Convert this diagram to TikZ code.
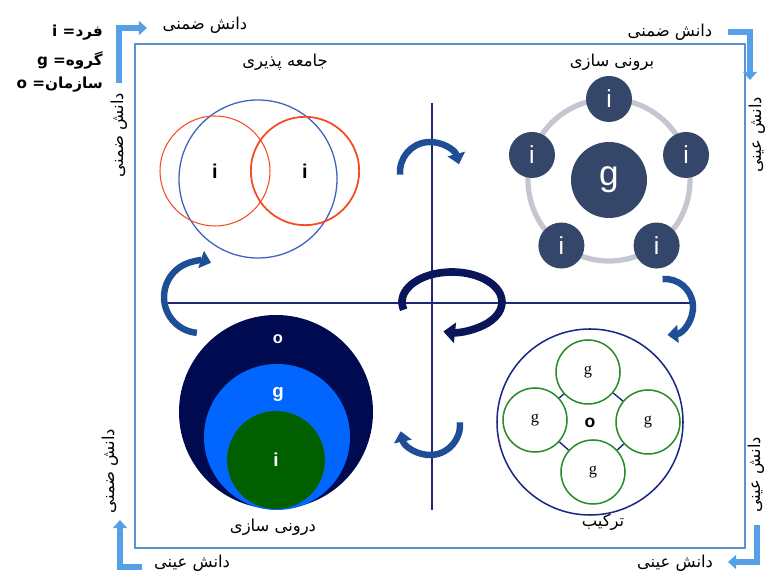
\documentclass[tikz,border=0pt]{standalone}
\usepackage{fontspec}
\setmainfont{Liberation Sans}
\newfontfamily\fa[Script=Arabic]{DejaVu Sans}
\newfontfamily\gserif{Liberation Serif}
\TeXXeTstate=1
\usetikzlibrary{arrows.meta}

\definecolor{framecol}{RGB}{95,145,205}
\definecolor{axiscol}{RGB}{30,40,120}
\definecolor{arcblue}{RGB}{31,78,150}
\definecolor{loopnavy}{RGB}{10,22,90}
\definecolor{cornerblue}{RGB}{85,160,230}
\definecolor{slate}{RGB}{52,71,106}
\definecolor{ringgray}{RGB}{196,199,206}
\definecolor{redc}{RGB}{245,75,30}
\definecolor{ovalblue}{RGB}{60,100,190}
\definecolor{onavy}{RGB}{0,10,80}
\definecolor{gblue}{RGB}{0,102,255}
\definecolor{igreen}{RGB}{0,96,0}
\definecolor{ringgreen}{RGB}{40,140,40}
\definecolor{outernavy}{RGB}{25,40,130}

\newcommand{\fatxt}[1]{{\fa\beginR #1\endR}}

\begin{document}
\begin{tikzpicture}[x=0.03cm, y=0.03cm, line cap=butt, line join=miter,
    falabel/.style={font=\fontsize{14}{16}\selectfont, inner sep=1pt},
    keylabel/.style={font=\fa\bfseries\fontsize{13}{15}\selectfont, anchor=east, inner sep=0pt},
    bluearc/.style={line width=5.5pt, arcblue, -{Triangle[length=9pt, width=15pt]}},
    looparc/.style={line width=6.5pt, loopnavy, -{Triangle[length=10pt, width=17pt]}},
    corner/.style={line width=4.5pt, cornerblue, -{Triangle[length=7pt, width=12pt]}},
    dot/.style={circle, inner sep=0pt, text=white},
    ring/.style={circle, draw=ringgreen, line width=1.3pt, fill=white, inner sep=0pt, minimum size=1.92cm, font=\gserif\fontsize{14}{16}\selectfont}]
    \useasboundingbox (0,0) rectangle (765,572);

    % key
    \node[keylabel] (keyi) at (103,539) {i =\beginR فرد\endR};
    \node[keylabel] (keyg) at (103,512) {g =\beginR گروه\endR};
    \node[keylabel] (keyo) at (103,487) {o =\beginR سازمان\endR};

    % frame and axes
    \draw[framecol, line width=1.6pt] (135,24) rectangle (745,528);
    \coordinate (vtop) at (432,469);
    \coordinate (vbot) at (432,62);
    \coordinate (hleft) at (168,269);
    \coordinate (hright) at (695,269);
    \draw[axiscol, line width=1pt] (vtop) -- (vbot);
    \draw[axiscol, line width=1pt] (hleft) -- (hright);

    % socialization (top left)
    \node[falabel] (soc) at (285,510) {\fatxt{جامعه پذیری}};
    \node[circle, draw=ovalblue, line width=1.1pt, minimum size=4.74cm] (grp) at (258,393) {};
    \node[circle, draw=redc, line width=0.9pt, inner sep=0pt, minimum size=3.3cm,
          font=\bfseries\fontsize{17}{19}\selectfont] (ileft) at (215,401) {i};
    \node[circle, draw=redc, line width=1.5pt, inner sep=0pt, minimum size=3.25cm,
          font=\bfseries\fontsize{17}{19}\selectfont] (iright) at (305,401) {i};

    % externalization (top right)
    \node[falabel] (ext) at (612,510) {\fatxt{برونی سازی}};
    \coordinate (extc) at (609,392);
    \draw[ringgray, line width=4.5pt] (extc) circle[radius=81];
    \node[dot, fill=slate, minimum size=2.28cm, font=\fontsize{30}{32}\selectfont] (gbig) at (extc) {g};
    \foreach \a [count=\k] in {90,18,-54,-126,162}
        \node[dot, fill=slate, minimum size=1.38cm, font=\fontsize{21}{23}\selectfont] (ismall\k) at ([shift={(\a:81)}]extc) {i};

    % internalization (bottom left)
    \node[falabel] (int) at (273,45) {\fatxt{درونی سازی}};
    \node[dot, fill=onavy, minimum size=5.82cm] (oout) at (276,160) {};
    \node[dot, fill=gblue, minimum size=4.38cm] (gmid) at (277,135) {};
    \node[dot, fill=igreen, minimum size=2.94cm] (iin) at (276,112) {};
    \node[text=white, font=\bfseries\fontsize{14}{16}\selectfont] (olab) at (278,233) {o};
    \node[text=white, font=\bfseries\fontsize{16}{18}\selectfont] (glab) at (278,178) {g};
    \node[text=white, font=\bfseries\fontsize{16}{18}\selectfont] (ilab) at (276,112) {i};

    % combination (bottom right)
    \node[falabel] (comb) at (603,50) {\fatxt{ترکیب}};
    \node[circle, draw=outernavy, line width=1.3pt, inner sep=0pt, minimum size=5.58cm] (org) at (590,150) {};
    \node[ring] (gtop) at (588,200) {g};
    \node[ring] (gleft) at (535,152) {g};
    \node[ring] (gright) at (648,150) {g};
    \node[ring] (gbot) at (593,100) {g};
    \node[font=\bfseries\fontsize{15}{17}\selectfont] (ocen) at (590,149) {o};
    \draw[outernavy, line width=1.2pt] (gtop) -- (gleft) (gleft) -- (gbot) (gbot) -- (gright) (gright) -- (gtop);

    % curved arrows
    \coordinate (topc) at (430,400);
    \coordinate (leftc) at (200,275);
    \coordinate (rightc) at (665,265);
    \coordinate (botc) at (430,147);
    \coordinate (midc) at (452,270);
    \draw[bluearc] ([shift={(185:30)}]topc) arc[start angle=185, end angle=15, radius=30];
    \draw[bluearc] ([shift={(265:36)}]leftc) arc[start angle=265, end angle=72, radius=36];
    \draw[bluearc] ([shift={(95:28)}]rightc) arc[start angle=95, end angle=-85, radius=28];
    \draw[bluearc] ([shift={(5:30)}]botc) arc[start angle=5, end angle=-168, radius=30];
    \draw[looparc] ([shift={(195:50 and 30)}]midc) arc[start angle=195, end angle=-100, x radius=50, y radius=30];

    % corner arrows
    \coordinate (tl1) at (119,489);
    \coordinate (tl2) at (119,544);
    \coordinate (tl3) at (147,544);
    \draw[corner] (tl1) -- (tl2) -- (tl3);
    \coordinate (tr1) at (728,540);
    \coordinate (tr2) at (750,540);
    \coordinate (tr3) at (750,492);
    \draw[corner] (tr1) -- (tr2) -- (tr3);
    \coordinate (br1) at (757,47);
    \coordinate (br2) at (757,10);
    \coordinate (br3) at (728,10);
    \draw[corner] (br1) -- (br2) -- (br3);
    \coordinate (bl1) at (142,5);
    \coordinate (bl2) at (120,5);
    \coordinate (bl3) at (120,52);
    \draw[corner] (bl1) -- (bl2) -- (bl3);

    % knowledge labels
    \node[falabel] (tacit1) at (205,547) {\fatxt{دانش ضمنی}};
    \node[falabel] (tacit2) at (670,540) {\fatxt{دانش ضمنی}};
    \node[falabel] (expl1) at (675,9) {\fatxt{دانش عینی}};
    \node[falabel] (expl2) at (192,9) {\fatxt{دانش عینی}};
    \node[falabel, rotate=90] (tacit3) at (119,437) {\fatxt{دانش ضمنی}};
    \node[falabel, rotate=90] (tacit4) at (110,101) {\fatxt{دانش ضمنی}};
    \node[falabel, rotate=90] (expl3) at (757,437) {\fatxt{دانش عینی}};
    \node[falabel, rotate=90] (expl4) at (756,97) {\fatxt{دانش عینی}};
\end{tikzpicture}
\end{document}
